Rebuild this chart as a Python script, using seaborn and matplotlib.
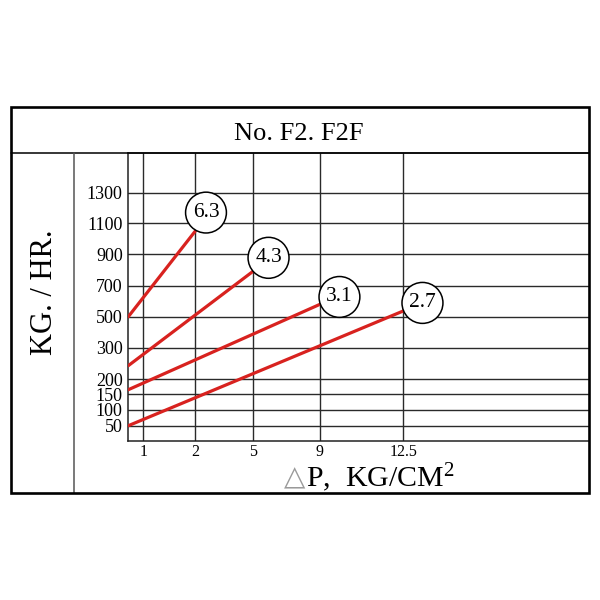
import numpy as np
import pandas as pd
import matplotlib
matplotlib.use("Agg")
import matplotlib.pyplot as plt
import seaborn as sns
from matplotlib.patches import Rectangle
from matplotlib.lines import Line2D

# data
curve_labels = ["6.3", "4.3", "3.1", "2.7"]
dp_start = [0, 0, 0, 0]
dp_end = [2, 5, 9, 12.5]
kg_start = [500, 243, 165, 50]
kg_end = [1050, 790, 580, 537]

dp_ticks = [1, 2, 5, 9, 12.5]
kg_ticks = [50, 100, 150, 200, 300, 500, 700, 900, 1100, 1300]

# the original axes are not linear: anchor values -> distance along axis (px)
dp_anchor = [0, 1, 2, 5, 9, 12.5, 20]
dp_anchor_pos = [0, 15, 67, 124.4, 191.7, 275, 461]
kg_anchor = [0, 50, 100, 150, 200, 300, 500, 700, 900, 1100, 1300, 1550]
kg_anchor_pos = [0, 15.3, 31, 46.7, 62, 93, 124.3, 155.3, 186.7, 217.7, 248.3, 287.7]

# circle label offsets from line end (points)
label_offsets = [(7.7, 13.3), (11.4, 9.9), (14.0, 5.3), (13.8, 5.8)]

RED = "#d8221f"

sns.set_theme(style="white")
plt.rcParams["font.family"] = ["Liberation Serif", "DejaVu Sans"]
plt.rcParams["mathtext.fontset"] = "custom"
plt.rcParams["mathtext.rm"] = "Liberation Serif"
plt.rcParams["mathtext.it"] = "Liberation Serif:italic"
plt.rcParams["text.color"] = "black"
plt.rcParams["axes.labelcolor"] = "black"


def make_funcs(vals, pos):
    vals = np.asarray(vals, float)
    pos = np.asarray(pos, float)

    def fwd(x):
        return np.interp(x, vals, pos)

    def inv(p):
        return np.interp(p, pos, vals)
    return fwd, inv


def fx(px):
    return px / 600.0


def fy(py):
    return 1 - py / 600.0


rows = []
for lab, x0, x1, y0, y1 in zip(curve_labels, dp_start, dp_end, kg_start, kg_end):
    rows.append({"curve": lab, "dp": x0, "kg": y0})
    rows.append({"curve": lab, "dp": x1, "kg": y1})
df = pd.DataFrame(rows)

fig = plt.figure(figsize=(6, 6), dpi=100)
ax = fig.add_axes([fx(128.3), fy(441), (589.3 - 128.3) / 600, (441 - 153.3) / 600])

sns.lineplot(data=df, x="dp", y="kg", units="curve", estimator=None,
             sort=False, color=RED, lw=2.3, ax=ax, zorder=3)

ax.set_xscale("function", functions=make_funcs(dp_anchor, dp_anchor_pos))
ax.set_yscale("function", functions=make_funcs(kg_anchor, kg_anchor_pos))
ax.set_xlim(dp_anchor[0], dp_anchor[-1])
ax.set_ylim(kg_anchor[0], kg_anchor[-1])

ax.set_xticks(dp_ticks)
ax.set_xticklabels([("%g" % v) for v in dp_ticks])
ax.set_yticks(kg_ticks)
ax.set_yticklabels([str(v) for v in kg_ticks])
ax.minorticks_off()
ax.tick_params(axis="x", length=0, pad=2, labelsize=11.5, labelcolor="black")
ax.tick_params(axis="y", length=0, pad=4, labelsize=13, labelcolor="black")
ax.grid(True, color="#2a2a2a", lw=1.0, zorder=1)
ax.set_axisbelow(True)
ax.set_xlabel("")
ax.set_ylabel("")

for side in ["left", "bottom", "top"]:
    ax.spines[side].set_visible(True)
    ax.spines[side].set_color("#222222")
    ax.spines[side].set_linewidth(1.1)
ax.spines["right"].set_visible(False)

for lab, x1, y1, off in zip(curve_labels, dp_end, kg_end, label_offsets):
    ax.annotate(lab, xy=(x1, y1), xytext=off, textcoords="offset points",
                ha="center", va="center", fontsize=15.5, color="black",
                bbox=dict(boxstyle="circle,pad=0.33", fc="white", ec="black", lw=1.1),
                zorder=5, annotation_clip=False)

# frame around the chart
fig.add_artist(Rectangle((fx(10.7), fy(492.7)), fx(589.3) - fx(10.7), fy(106.7) - fy(492.7),
                         transform=fig.transFigure, fill=False, ec="black", lw=1.9, zorder=10))
fig.add_artist(Line2D([fx(10.7), fx(589.3)], [fy(153.3), fy(153.3)],
                      transform=fig.transFigure, color="black", lw=1.1))
fig.add_artist(Line2D([fx(74.3), fx(74.3)], [fy(153.3), fy(492.7)],
                      transform=fig.transFigure, color="#555555", lw=1.1))

fig.text(fx(299), fy(139.5), "No. F2. F2F", fontsize=19, ha="center", va="baseline",
         color="black")
fig.text(fx(44), fy(292), "KG. / HR.", fontsize=22, rotation=90, ha="center", va="center",
         color="black")
fig.text(fx(294.5), fy(477), "\u25b3", fontsize=20, color="#9a9a9a",
         family="DejaVu Sans", ha="center", va="center")
fig.text(fx(306), fy(486.7), r"P,  KG/CM$^{\mathrm{2}}$", fontsize=21.5,
         ha="left", va="baseline", color="black")

fig.savefig("out.png", dpi=100, facecolor="white")
